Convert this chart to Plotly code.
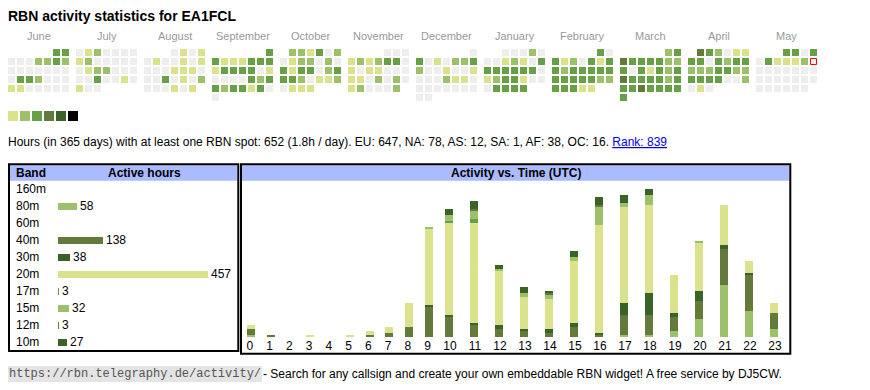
import datetime
import plotly.graph_objects as go

# ---------------- data ----------------
TITLE = "RBN activity statistics for EA1FCL"
FIRST_YEAR, FIRST_MONTH = 2024, 6
TODAY = datetime.date(2025, 5, 11)
MONTH_LABELS = ["June", "July", "August", "September", "October", "November",
                "December", "January", "February", "March", "April", "May"]

# daily activity level (0 = none ... 5 = most), one list per month
lv_2024_06 = [3, 3, 0, 0, 0, 2, 2, 3, 2, 0, 0, 0, 0, 0, 0, 0, 0, 3, 3, 2, 0, 0, 0, 1, 1, 0, 0, 0, 0, 0]
lv_2024_07 = [0, 1, 2, 0, 0, 0, 0, 1, 2, 0, 0, 0, 0, 0, 0, 1, 2, 2, 0, 0, 0, 0, 0, 3, 0, 0, 1, 0, 1, 0, 0]
lv_2024_08 = [0, 1, 0, 1, 0, 1, 0, 0, 1, 0, 1, 0, 0, 0, 1, 1, 1, 0, 0, 0, 3, 0, 1, 0, 2, 0, 0, 0, 1, 0, 1]
lv_2024_09 = [3, 3, 1, 1, 1, 3, 3, 3, 1, 3, 3, 3, 3, 0, 1, 0, 0, 0, 0, 3, 2, 3, 3, 2, 3, 3, 1, 3, 0, 0]
lv_2024_10 = [2, 2, 1, 3, 0, 2, 0, 1, 2, 2, 0, 2, 0, 3, 1, 3, 3, 0, 2, 3, 3, 3, 2, 0, 1, 1, 2, 0, 1, 1, 1]
lv_2024_11 = [0, 0, 0, 1, 2, 1, 2, 3, 3, 0, 1, 0, 1, 1, 0, 0, 0, 1, 1, 0, 2, 0, 2, 0, 1, 2, 0, 0, 0, 2]
lv_2024_12 = [0, 3, 0, 1, 0, 2, 2, 3, 2, 0, 0, 1, 0, 0, 1, 0, 0, 0, 2, 1, 1, 0, 0, 0, 0, 0, 0, 0, 0, 0, 0]
lv_2025_01 = [0, 0, 0, 2, 0, 0, 0, 1, 2, 1, 0, 3, 3, 3, 3, 3, 3, 3, 0, 1, 2, 3, 3, 1, 0, 0, 0, 3, 3, 3, 3]
lv_2025_02 = [3, 0, 3, 1, 2, 0, 3, 1, 3, 3, 2, 3, 3, 3, 3, 3, 3, 3, 3, 3, 3, 2, 2, 3, 3, 3, 1, 1]
lv_2025_03 = [2, 3, 4, 3, 3, 3, 3, 2, 2, 3, 0, 3, 1, 3, 2, 3, 4, 3, 3, 3, 3, 2, 3, 3, 3, 4, 3, 3, 3, 3, 3]
lv_2025_04 = [4, 3, 2, 0, 1, 1, 3, 3, 0, 3, 2, 3, 3, 2, 2, 2, 3, 3, 2, 2, 3, 3, 3, 3, 0, 0, 2, 0, 1, 0]
lv_2025_05 = [3, 3, 0, 3, 0, 3, 1, 1, 1, 2, 0, 0, 0, 0, 0, 0, 0, 0, 0, 0, 0, 0, 0, 0, 0, 0, 0, 0, 0, 0, 0]
CAL_LEVELS = [lv_2024_06, lv_2024_07, lv_2024_08, lv_2024_09, lv_2024_10, lv_2024_11,
              lv_2024_12, lv_2025_01, lv_2025_02, lv_2025_03, lv_2025_04, lv_2025_05]
LEGEND_LEVELS = [1, 2, 3, 4, 5, 6]
LEVEL_COLORS = ["#eeeeee", "#dae38b", "#9dc16b", "#67a046", "#647a3b", "#3a6427", "#000000"]

STATS_TEXT = ("Hours (in 365 days) with at least one RBN spot: 652 (1.8h / day). "
              "EU: 647, NA: 78, AS: 12, SA: 1, AF: 38, OC: 16. ")
RANK_TEXT = "Rank: 839"
FOOTER_URL = "https://rbn.telegraphy.de/activity/"
FOOTER_TEXT = "- Search for any callsign and create your own embeddable RBN widget! A free service by DJ5CW."

BANDS = ["160m", "80m", "60m", "40m", "30m", "20m", "17m", "15m", "12m", "10m"]
BAND_HOURS = [0, 58, 0, 138, 38, 457, 3, 32, 3, 27]
BAND_COLORS = ["#dae38b", "#9dc16b", "#67a046", "#647a3b", "#3a6427",
               "#dae38b", "#67a046", "#9dc16b", "#647a3b", "#3a6427"]

HOURS = ["0", "1", "2", "3", "4", "5", "6", "7", "8", "9", "10", "11",
         "12", "13", "14", "15", "16", "17", "18", "19", "20", "21", "22", "23"]
act_160m = [0, 0, 0, 0, 0, 0, 0, 0, 0, 0, 0, 0, 0, 0, 0, 0, 0, 0, 0, 0, 0, 0, 0, 0]
act_80m = [1, 0, 0, 0, 0, 0, 0, 0, 0, 0, 0, 0, 0, 0, 0, 0, 0, 1, 1, 3, 9, 26, 13, 4]
act_60m = [0, 0, 0, 0, 0, 0, 0, 0, 0, 0, 0, 0, 0, 0, 0, 0, 0, 0, 0, 0, 0, 0, 0, 0]
act_40m = [3, 1, 0, 0, 0, 0, 1, 2, 5, 15, 10, 6, 4, 3, 2, 5, 1, 10, 10, 7, 9, 18, 18, 8]
act_30m = [0, 0, 0, 0, 0, 0, 0, 0, 0, 1, 1, 1, 2, 1, 2, 2, 1, 6, 11, 2, 5, 2, 1, 0]
act_20m = [2, 0, 0, 1, 0, 1, 2, 3, 12, 38, 46, 50, 27, 16, 15, 31, 54, 48, 44, 19, 24, 20, 6, 5]
act_17m = [0, 0, 0, 0, 0, 0, 0, 0, 0, 0, 1, 2, 0, 0, 0, 0, 0, 0, 0, 0, 0, 0, 0, 0]
act_15m = [0, 0, 0, 0, 0, 0, 0, 0, 0, 1, 3, 4, 1, 2, 2, 2, 9, 2, 5, 0, 1, 0, 0, 0]
act_12m = [0, 0, 0, 0, 0, 0, 0, 0, 0, 0, 0, 1, 0, 0, 1, 0, 1, 0, 0, 0, 0, 0, 0, 0]
act_10m = [0, 0, 0, 0, 0, 0, 0, 0, 0, 0, 3, 4, 2, 3, 1, 3, 4, 4, 3, 0, 0, 0, 0, 0]
ACTIVITY = [act_160m, act_80m, act_60m, act_40m, act_30m, act_20m, act_17m, act_15m, act_12m, act_10m]

# ---------------- layout constants (pixels) ----------------
W, H = 870, 390
FONT = "Liberation Sans, Arial, sans-serif"
MONO = "Liberation Mono, DejaVu Sans Mono, monospace"
HEAD_BLUE = "#aabbff"
BLOCK_X0, BLOCK_PITCH, CELL_PITCH, CELL, CAL_Y0 = 8, 68, 9, 7, 49


def py(v):
    return 1 - v / H


fig = go.Figure()

# ---- calendar ----
cx, cy, cc = [], [], []
today_xy = None
for m, levels in enumerate(CAL_LEVELS):
    year = FIRST_YEAR + (FIRST_MONTH - 1 + m) // 12
    month = (FIRST_MONTH - 1 + m) % 12 + 1
    wd0 = datetime.date(year, month, 1).weekday()
    for d, lv in enumerate(levels):
        idx = wd0 + d
        x = BLOCK_X0 + m * BLOCK_PITCH + (idx % 7) * CELL_PITCH + CELL / 2
        y = CAL_Y0 + (idx // 7) * CELL_PITCH + CELL / 2
        cx.append(x)
        cy.append(y)
        cc.append(LEVEL_COLORS[lv])
        if datetime.date(year, month, d + 1) == TODAY:
            today_xy = (x, y)
fig.add_trace(go.Scatter(x=cx, y=cy, mode="markers", hoverinfo="skip",
                         marker=dict(symbol="square", size=CELL, color=cc, line=dict(width=0)),
                         xaxis="x", yaxis="y"))
fig.add_trace(go.Scatter(x=[today_xy[0]], y=[today_xy[1]], mode="markers", hoverinfo="skip",
                         marker=dict(symbol="square", size=CELL - 1, color=LEVEL_COLORS[0],
                                     line=dict(width=1, color="#ff0000")),
                         xaxis="x", yaxis="y"))
fig.add_trace(go.Scatter(x=[13 + 12 * i for i in range(len(LEGEND_LEVELS))],
                         y=[116] * len(LEGEND_LEVELS), mode="markers", hoverinfo="skip",
                         marker=dict(symbol="square", size=10,
                                     color=[LEVEL_COLORS[l] for l in LEGEND_LEVELS], line=dict(width=0)),
                         xaxis="x", yaxis="y"))

annotations = []
for m, name in enumerate(MONTH_LABELS):
    annotations.append(dict(x=BLOCK_X0 + m * BLOCK_PITCH + 30.5, y=35.5, xref="x", yref="y",
                            text=name, showarrow=False, xanchor="center", yanchor="middle",
                            font=dict(size=11, color="#999999", family=FONT),
                            borderpad=0, borderwidth=0))

annotations.append(dict(x=8, y=16, xref="x", yref="y", text="<b>%s</b>" % TITLE, showarrow=False,
                        xanchor="left", yanchor="middle", font=dict(size=14, color="#000", family=FONT),
                        borderpad=0, borderwidth=0))
annotations.append(dict(x=8, y=142, xref="x", yref="y",
                        text=STATS_TEXT + '<span style="color:#0000ee"><u>%s</u></span>' % RANK_TEXT,
                        showarrow=False, xanchor="left", yanchor="middle",
                        font=dict(size=12, color="#000", family=FONT), borderpad=0, borderwidth=0))
annotations.append(dict(x=8, y=374, xref="x", yref="y", text=FOOTER_URL, showarrow=False,
                        xanchor="left", yanchor="middle", bgcolor="#e4e4e4",
                        font=dict(size=12, color="#555555", family=MONO), borderpad=1, borderwidth=0))
annotations.append(dict(x=263, y=374, xref="x", yref="y", text=FOOTER_TEXT, showarrow=False,
                        xanchor="left", yanchor="middle",
                        font=dict(size=12, color="#000", family=FONT), borderpad=0, borderwidth=0))

# ---- band table ----
BAR_X0, BAR_X1, BAR_MAXPX = 58, 236, 150
fig.add_trace(go.Bar(x=BAND_HOURS, y=BANDS, orientation="h", xaxis="x2", yaxis="y2",
                     width=7 / 17, marker=dict(color=BAND_COLORS, line=dict(width=0)),
                     text=[str(v) if v else "" for v in BAND_HOURS], textposition="outside",
                     textfont=dict(size=12, color="#000", family=FONT), cliponaxis=False,
                     constraintext="none", hoverinfo="skip"))
for b in BANDS:
    annotations.append(dict(x=16, y=b, xref="x", yref="y2", text=b, showarrow=False,
                            xanchor="left", yanchor="middle",
                            font=dict(size=12, color="#000", family=FONT), borderpad=0, borderwidth=0))
annotations.append(dict(x=16, y=173, xref="x", yref="y", text="<b>Band</b>", showarrow=False,
                        xanchor="left", yanchor="middle", font=dict(size=12, color="#000", family=FONT),
                        borderpad=0, borderwidth=0))
annotations.append(dict(x=144.5, y=173, xref="x", yref="y", text="<b>Active hours</b>", showarrow=False,
                        xanchor="center", yanchor="middle", font=dict(size=12, color="#000", family=FONT),
                        borderpad=0, borderwidth=0))

# ---- activity vs time ----
COL_W = {1: 19.75, 2: 25.0}
lefts, acc = [], 0.0
for h in HOURS:
    lefts.append(acc)
    acc += COL_W[len(h)]
bar_x = [l + 11 for l in lefts]
tick_x = [l + COL_W[len(h)] / 2 for l, h in zip(lefts, HOURS)]
for band, vals, col in zip(BANDS, ACTIVITY, BAND_COLORS):
    fig.add_trace(go.Bar(x=bar_x, y=vals, width=8, name=band, xaxis="x3", yaxis="y3",
                         marker=dict(color=col, line=dict(width=0)), hoverinfo="skip"))
annotations.append(dict(x=515.5, y=173, xref="x", yref="y", text="<b>Activity vs. Time (UTC)</b>",
                        showarrow=False, xanchor="center", yanchor="middle",
                        font=dict(size=12, color="#000", family=FONT), borderpad=0, borderwidth=0))

shapes = [
    dict(type="rect", xref="x", yref="y", x0=10, x1=237.3, y0=165.3, y1=180.7,
         fillcolor=HEAD_BLUE, line=dict(width=0), layer="below"),
    dict(type="rect", xref="x", yref="y", x0=242, x1=789.3, y0=165.3, y1=180.7,
         fillcolor=HEAD_BLUE, line=dict(width=0), layer="below"),
    dict(type="rect", xref="x", yref="y", x0=9, x1=238.3, y0=164.3, y1=351,
         line=dict(width=2, color="#000")),
    dict(type="rect", xref="x", yref="y", x0=241, x1=790.3, y0=164.3, y1=353.7,
         line=dict(width=2, color="#000")),
]

fig.update_layout(
    width=W, height=H, margin=dict(l=0, r=0, t=0, b=0, autoexpand=False),
    paper_bgcolor="white", plot_bgcolor="rgba(0,0,0,0)",
    showlegend=False, barmode="stack", bargap=0,
    font=dict(family=FONT, size=12, color="#000"),
    annotations=annotations, shapes=shapes,
    xaxis=dict(domain=[0, 1], range=[0, W], visible=False, fixedrange=True, anchor="y"),
    yaxis=dict(domain=[0, 1], range=[H, 0], visible=False, fixedrange=True, anchor="x"),
    xaxis2=dict(domain=[BAR_X0 / W, BAR_X1 / W],
                range=[0, max(BAND_HOURS) * (BAR_X1 - BAR_X0) / BAR_MAXPX],
                visible=False, fixedrange=True, anchor="y2"),
    yaxis2=dict(domain=[py(350.8), py(180.8)], type="category", categoryorder="array",
                categoryarray=BANDS, range=[len(BANDS) - 0.5, -0.5], visible=False,
                fixedrange=True, anchor="x2"),
    xaxis3=dict(domain=[240 / W, 791 / W], range=[0, 551], tickvals=tick_x, ticktext=HOURS,
                showgrid=False, zeroline=False, showline=False, ticks="", automargin=False,
                tickfont=dict(size=12, color="#000", family=FONT), fixedrange=True, anchor="y3"),
    yaxis3=dict(domain=[py(337), py(183)], range=[0, (337 - 183) / 2], visible=False,
                fixedrange=True, anchor="x3"),
)

fig.write_html("out.html", config={"displayModeBar": False},
               post_script="document.body.style.margin='0';document.body.style.overflow='hidden';")
